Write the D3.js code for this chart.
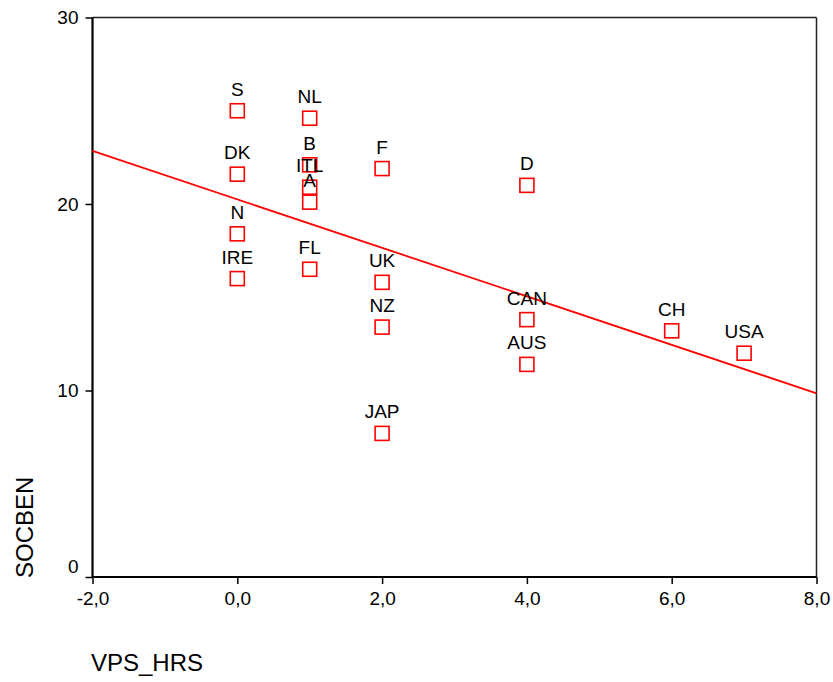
<!DOCTYPE html>
<html>
<head>
<meta charset="utf-8">
<script src="https://cdn.jsdelivr.net/npm/d3@7"></script>
<style>
  body { margin: 0; background: #fff; }
  text { font-family: "Liberation Sans", Arial, sans-serif; fill: #000; }
</style>
</head>
<body>
<svg id="svg" width="833" height="682"></svg>
<script>
const countries = ["S", "NL", "DK", "B", "ITL", "A", "F", "N", "IRE", "FL", "UK", "NZ", "JAP", "D", "CAN", "AUS", "CH", "USA"];
const vpsHrs = [0, 1, 0, 1, 1, 1, 2, 0, 0, 1, 2, 2, 2, 4, 4, 4, 6, 7];
const socben = [25.0, 24.6, 21.6, 22.1, 20.9, 20.1, 21.9, 18.4, 16.0, 16.5, 15.8, 13.4, 7.7, 21.0, 13.8, 11.4, 13.2, 12.0];
const fitX = [-2, 8];
const fitY = [22.85, 9.85];
const xTicks = [-2, 0, 2, 4, 6, 8];
const yTicks = [0, 10, 20, 30];

const plotL = 92.5, plotR = 816.5, plotT = 17.5, plotB = 577;

const x = d3.scaleLinear().domain([-2, 8]).range([plotL, plotR]);
const y = d3.scaleLinear().domain([0, 30]).range([plotB, plotT]);

const svg = d3.select("#svg");

// frame: top and right thin
svg.append("line")
  .attr("x1", plotL).attr("y1", plotT).attr("x2", plotR).attr("y2", plotT)
  .attr("stroke", "#222").attr("stroke-width", 1.5);
svg.append("line")
  .attr("x1", plotR).attr("y1", plotT).attr("x2", plotR).attr("y2", plotB)
  .attr("stroke", "#222").attr("stroke-width", 1.5);

// axes
const xAxis = svg.append("g")
  .attr("transform", `translate(0,${plotB})`)
  .call(d3.axisBottom(x).tickValues(xTicks).tickSize(7).tickPadding(8)
    .tickFormat(d => d.toFixed(1).replace(".", ",")));
const yAxis = svg.append("g")
  .attr("transform", `translate(${plotL},0)`)
  .call(d3.axisLeft(y).tickValues(yTicks).tickSize(7).tickPadding(7));

[xAxis, yAxis].forEach(g => {
  g.select(".domain").attr("stroke", "#000").attr("stroke-width", 2.2);
  g.selectAll(".tick line").attr("stroke", "#000").attr("stroke-width", 1.5);
  g.selectAll(".tick text")
    .style("font-family", '"Liberation Sans", Arial, sans-serif')
    .style("font-size", "19px")
    .attr("fill", "#000");
});
xAxis.select(".domain").attr("d", `M${plotL},0H${plotR}`);
yAxis.select(".domain").attr("d", `M0,${plotT}V${plotB}`);
// the 0 label sits above its tick
yAxis.selectAll(".tick text").filter(d => d === 0).attr("dy", "-0.25em");

// fit line
svg.append("line")
  .attr("x1", x(fitX[0])).attr("y1", y(fitY[0]))
  .attr("x2", x(fitX[1])).attr("y2", y(fitY[1]))
  .attr("stroke", "#ff0000").attr("stroke-width", 1.8);

// points
const pts = countries.map((c, i) => ({ c, vx: vpsHrs[i], vy: socben[i] }));
const sq = 14;
svg.append("g").selectAll("rect").data(pts).join("rect")
  .attr("x", d => x(d.vx) - sq / 2)
  .attr("y", d => y(d.vy) - sq / 2)
  .attr("width", sq).attr("height", sq)
  .attr("fill", "none").attr("stroke", "#ff0000").attr("stroke-width", 1.6);

svg.append("g").selectAll("text").data(pts).join("text")
  .attr("x", d => x(d.vx))
  .attr("y", d => y(d.vy) - 15)
  .attr("text-anchor", "middle")
  .style("font-size", "19px")
  .text(d => d.c);

// axis titles
svg.append("text")
  .attr("x", 91).attr("y", 671)
  .style("font-size", "24px")
  .text("VPS_HRS");
svg.append("text")
  .attr("transform", "translate(33,578) rotate(-90)")
  .style("font-size", "24px")
  .text("SOCBEN");
</script>
</body>
</html>
